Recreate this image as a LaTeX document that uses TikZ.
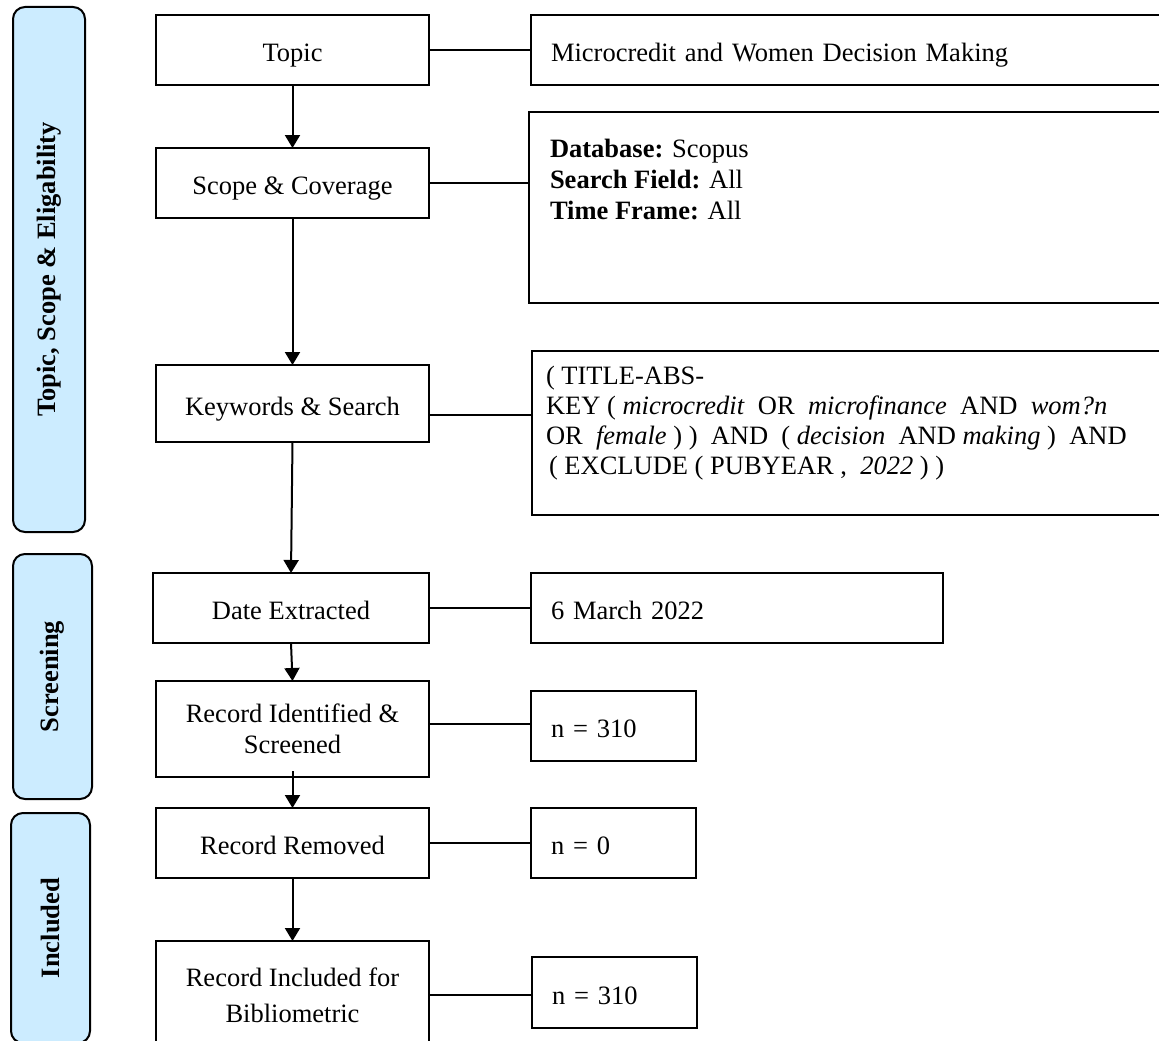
\documentclass[tikz,border=0pt]{standalone}
\usepackage{fontspec}
\setmainfont{Liberation Serif}
\usetikzlibrary{arrows.meta,positioning}
\definecolor{paleblue}{RGB}{204,236,255}

\tikzset{
	box/.style={draw, rectangle, line width=2pt, outer sep=0pt, inner sep=0pt, minimum width=273pt, minimum height=70pt, align=center},
	info/.style={draw, rectangle, line width=2pt, outer sep=0pt, inner xsep=20pt, inner ysep=0pt, minimum height=70pt, align=left},
	oneline/.style={text height=24pt, text depth=1pt},
	stage/.style={draw, rectangle, rounded corners=12pt, fill=paleblue, line width=2pt, rotate=90, inner sep=0pt, font=\fontsize{26.5pt}{31pt}\selectfont\bfseries},
	link/.style={line width=2pt},
	flow/.style={line width=2pt, -{Triangle[length=13pt, width=15pt]}}
}

\begin{document}
\begin{tikzpicture}[font=\fontsize{26.5pt}{31pt}\selectfont]

	\useasboundingbox (0pt,0pt) rectangle (1159pt,-1041pt);

	% stages
	\node[stage, minimum width=525pt, minimum height=72pt] (p1) at (49pt,-269.5pt) {Topic, Scope \& Eligability};
	\node[stage, minimum width=245pt, minimum height=79pt] (p2) at (52.5pt,-676.5pt) {Screening};
	\node[stage, minimum width=230pt, minimum height=79pt] (p3) at (50.5pt,-928pt) {Included};

	% main column
	\node[box, oneline] (topic) at (292.5pt,-50pt) {Topic};
	\node[box, oneline, below=63pt of topic] (scope) {Scope \& Coverage};
	\node[box, oneline, below=147pt of scope, minimum height=77pt] (kw) {Keywords \& Search};
	\node[box, oneline, below=131pt of kw, minimum width=276pt, xshift=-1.5pt] (date) {Date Extracted};
	\node[box, below=38pt of date, minimum height=96pt, xshift=1.5pt] (rid) {Record Identified \&\\ Screened};
	\node[box, oneline, below=31pt of rid] (rrem) {Record Removed};
	\node[box, below=63pt of rrem, minimum height=108pt] (rinc) {Record Included for\\[5pt] Bibliometric};

	% details
	\node[info, oneline, right=102pt of topic, text width=591pt] (t1) {Microcredit and Women Decision Making};
	\node[info, right=100pt of scope, yshift=-24.5pt, inner xsep=21pt, inner ysep=27pt] (s1) {\parbox[c][137pt][t]{591pt}{\textbf{Database:} Scopus\\
		\textbf{Search Field:} All\\
		\textbf{Time Frame:} All}};
	\node[info, right=103pt of kw, yshift=-29.5pt, inner xsep=14pt, inner ysep=15pt] (k1) {\parbox[c][134pt][t]{602pt}{\fontsize{26.5pt}{30pt}\selectfont
		( TITLE-ABS-\\
		KEY ( \textit{microcredit}~ OR~ \textit{microfinance}~ AND~ \textit{wom?n}\\
		OR~ \textit{female} ) )~ AND~ ( \textit{decision}~ AND \textit{making} )~ AND\\
		\hspace*{3pt}( EXCLUDE ( PUBYEAR ,~ \textit{2022} ) )}};
	\node[info, oneline, right=102pt of date, text width=372pt] (d1) {6 March 2022};
	\node[info, oneline, right=102pt of rid, yshift=3pt, text width=125pt] (n1) {n = 310};
	\node[info, oneline, right=102pt of rrem, text width=125pt] (n2) {n = 0};
	\node[info, oneline, right=103pt of rinc, yshift=2.5pt, minimum height=71pt, text width=125pt] (n3) {n = 310};

	% arrows
	\draw[flow] (topic.south) -- (scope.north);
	\draw[flow] (scope.south) -- (kw.north);
	\draw[flow] (kw.south) -- (date.north);
	\draw[flow] (date.south) -- (rid.north);
	\draw[flow] ([yshift=6pt]rid.south) -- (rrem.north);
	\draw[flow] (rrem.south) -- (rinc.north);

	% links
	\draw[link] (topic.east) -- (t1.west);
	\draw[link] (scope.east) -- (scope.east -| s1.west);
	\draw[link] ([yshift=-11.5pt]kw.east) -- ([yshift=-11.5pt]kw.east -| k1.west);
	\draw[link] (date.east) -- (d1.west);
	\draw[link] ([yshift=5pt]rid.east) -- ([yshift=5pt]rid.east -| n1.west);
	\draw[link] (rrem.east) -- (n2.west);
	\draw[link] (rinc.east) -- (rinc.east -| n3.west);

\end{tikzpicture}
\end{document}
